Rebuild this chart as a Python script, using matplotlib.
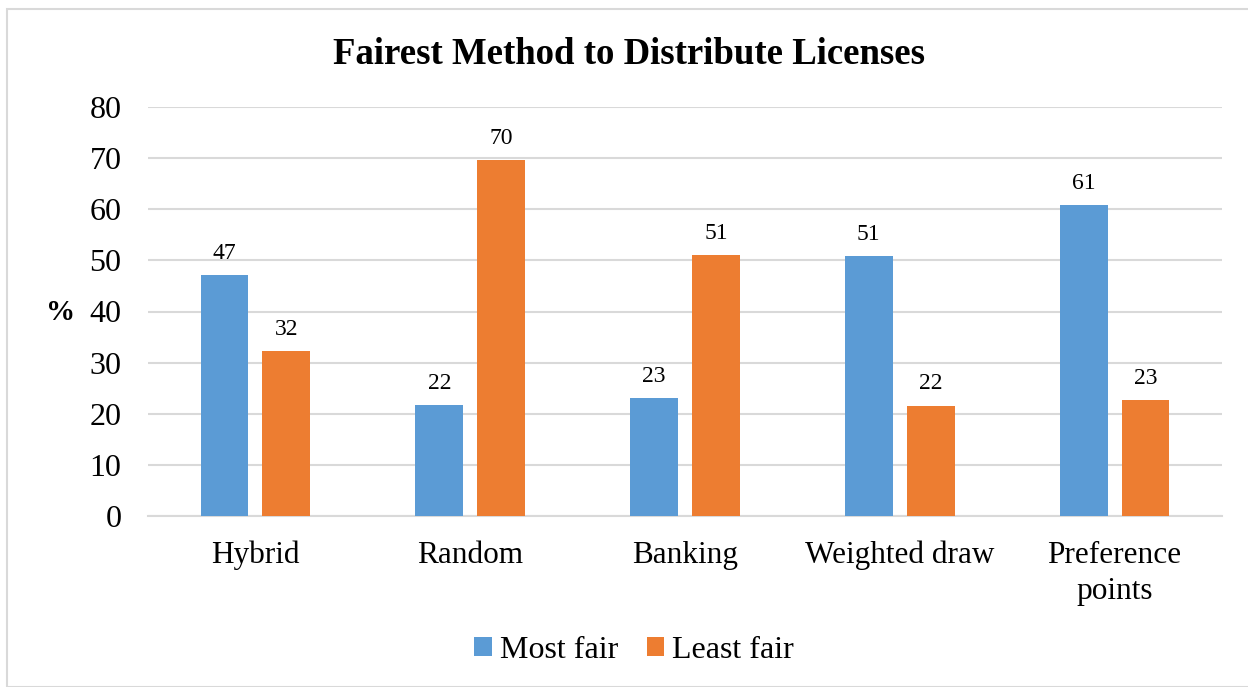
import matplotlib
matplotlib.use('Agg')
import matplotlib.pyplot as plt
import numpy as np
from matplotlib.patches import Rectangle

categories = ['Hybrid', 'Random', 'Banking', 'Weighted draw', 'Preference\npoints']
most_fair = [47.2, 21.7, 23.1, 50.9, 60.9]
least_fair = [32.3, 69.7, 51.1, 21.6, 22.6]
yticks = [0, 10, 20, 30, 40, 50, 60, 70, 80]

plt.rcParams['font.family'] = ['Liberation Serif', 'DejaVu Serif']

W, H = 1248, 687
fig = plt.figure(figsize=(W / 100, H / 100), dpi=100)
ax = fig.add_axes([148 / W, 1 - 516 / H, (1222 - 148) / W, (516 - 107) / H])

x = np.arange(len(categories))
bw = 0.223
off = 0.144
b1 = ax.bar(x - off, most_fair, bw, color='#5B9BD5', label='Most fair', zorder=3)
b2 = ax.bar(x + off, least_fair, bw, color='#ED7D31', label='Least fair', zorder=3)

for bars in (b1, b2):
    for r in bars:
        v = r.get_height()
        ax.annotate(f'{round(v)}', (r.get_x() + r.get_width() / 2, v),
                    xytext=(0, 8), textcoords='offset points',
                    ha='center', va='bottom', fontsize=17)

ax.set_xlim(-0.5, len(categories) - 0.5)
ax.set_ylim(0, 80)
ax.set_yticks(yticks)
ax.yaxis.grid(True, color='#d9d9d9', linewidth=1.5, zorder=0)
ax.set_axisbelow(True)
for s in ['top', 'right', 'left']:
    ax.spines[s].set_visible(False)
ax.spines['bottom'].set_color('#d9d9d9')
ax.spines['bottom'].set_linewidth(1.5)
ax.tick_params(axis='both', length=0)
ax.tick_params(axis='y', labelsize=23, pad=19)
ax.set_xticks(x)
ax.set_xticklabels(categories, fontsize=22.5, linespacing=1.3)
ax.tick_params(axis='x', pad=18)

fig.text(61 / W, 1 - 313 / H, '%', fontsize=21, fontweight='bold', ha='center', va='center')
fig.text(629 / W, 1 - 55 / H, 'Fairest Method to Distribute Licenses',
         fontsize=26.5, fontweight='bold', ha='center', va='center')

fig.legend(handles=[b1, b2], loc='center', bbox_to_anchor=(634 / W, 1 - 650 / H),
           ncol=2, frameon=False, fontsize=23, handlelength=0.55, handleheight=0.55,
           handletextpad=0.25, columnspacing=0.9)

fig.patches.append(Rectangle((7 / W, 0), 1, 1 - 9 / H, transform=fig.transFigure,
                             fill=False, edgecolor='#d9d9d9', linewidth=1.5))

fig.savefig('out.png', dpi=100)
